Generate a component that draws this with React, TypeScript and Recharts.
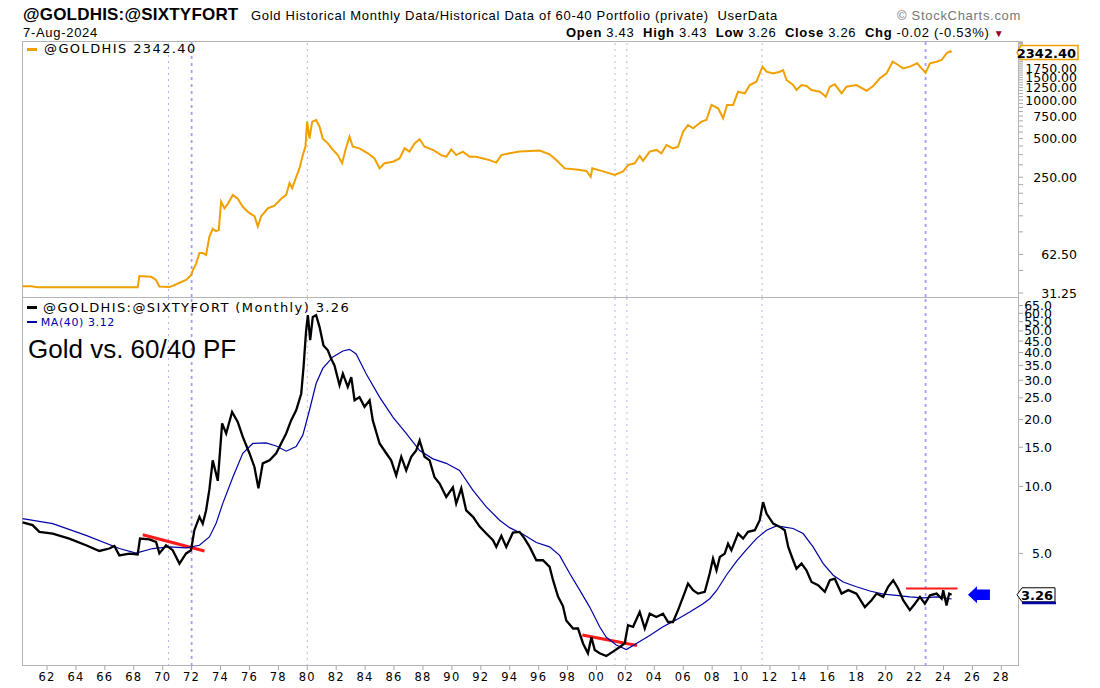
import React from 'react'
import { LineChart, Line, XAxis, YAxis, ReferenceLine, ReferenceDot } from 'recharts'

// gold monthly price (log scale)
const goldDates = [
  1960.3, 1960.9, 1961.35, 1968.27, 1968.39, 1969.2, 1969.54, 1969.77, 1970.46, 1970.69,
  1971.16, 1971.62, 1971.96, 1972.08, 1972.31, 1972.54, 1972.77, 1973.0, 1973.23, 1973.46,
  1973.69, 1973.88, 1974.04, 1974.27, 1974.5, 1974.85, 1975.19, 1975.54, 1976.0, 1976.35,
  1976.58, 1976.81, 1977.27, 1977.73, 1978.19, 1978.54, 1978.77, 1978.95, 1979.23, 1979.46,
  1979.69, 1979.87, 1979.99, 1980.15, 1980.34, 1980.61, 1980.85, 1981.07, 1981.42, 1981.77,
  1982.11, 1982.41, 1982.64, 1982.92, 1983.15, 1983.61, 1984.19, 1984.65, 1985.0, 1985.34,
  1985.92, 1986.38, 1986.73, 1987.07, 1987.42, 1987.77, 1988.11, 1988.69, 1989.26, 1989.61,
  1989.96, 1990.3, 1990.76, 1991.23, 1991.69, 1992.15, 1992.61, 1993.07, 1993.42, 1993.99,
  1994.68, 1996.07, 1996.76, 1997.22, 1997.8, 1998.61, 1999.3, 1999.6, 1999.71, 2000.34,
  2000.91, 2001.26, 2001.84, 2002.18, 2002.64, 2002.99, 2003.22, 2003.68, 2004.14, 2004.49,
  2004.84, 2005.29, 2005.64, 2005.99, 2006.33, 2006.68, 2007.26, 2007.6, 2007.95, 2008.41,
  2008.76, 2009.03, 2009.45, 2009.79, 2010.26, 2010.6, 2011.06, 2011.48, 2011.76, 2012.22,
  2012.68, 2012.91, 2013.14, 2013.6, 2013.83, 2014.18, 2014.52, 2014.87, 2015.45, 2015.86,
  2016.14, 2016.48, 2016.95, 2017.29, 2017.98, 2018.68, 2019.13, 2019.6, 2020.06, 2020.48,
  2020.87, 2021.21, 2021.67, 2022.18, 2022.48, 2022.76, 2023.06, 2023.52, 2023.87, 2024.21,
  2024.45, 2024.56,
]
const goldValues = [
  35.3, 35.3, 34.6, 34.6, 42.4, 41.8, 39.5, 35.1, 34.8, 35.5,
  37.6, 39.5, 43, 47, 53, 64, 64, 62, 86, 99,
  95, 97, 161, 143, 155, 182, 170, 147, 131, 124,
  103, 124, 143, 150, 170, 182, 225, 205, 250, 293,
  372, 432, 678, 500, 678, 698, 619, 500, 459, 408,
  372, 321, 408, 518, 432, 420, 384, 350, 293, 321,
  330, 350, 420, 396, 459, 494, 432, 408, 372, 361,
  412, 372, 396, 361, 361, 350, 340, 325, 372, 384,
  396, 403, 377, 340, 293, 287, 280, 252, 293, 280,
  268, 260, 277, 311, 321, 366, 336, 396, 408, 384,
  446, 420, 432, 566, 638, 601, 678, 698, 914, 861,
  720, 915, 915, 1161, 1127, 1309, 1390, 1820, 1663, 1614,
  1663, 1713, 1432, 1308, 1197, 1308, 1286, 1197, 1161, 1061,
  1270, 1325, 1127, 1270, 1308, 1182, 1285, 1476, 1614, 1990,
  1875, 1765, 1820, 1932, 1765, 1630, 1932, 1990, 2051, 2312,
  2400, 2342.4,
]

// gold / 60-40 portfolio ratio (bottom panel, log scale)
const ratioDates = [
  1960.31, 1961.0, 1961.47, 1962.39, 1963.54, 1964.7, 1965.62, 1966.31, 1966.66, 1967.0,
  1967.7, 1968.27, 1968.43, 1969.08, 1969.54, 1969.77, 1970.23, 1970.69, 1971.16, 1971.62,
  1971.96, 1972.19, 1972.54, 1972.77, 1973.0, 1973.23, 1973.46, 1973.81, 1974.11, 1974.39,
  1974.8, 1975.19, 1975.54, 1976.0, 1976.35, 1976.62, 1976.92, 1977.39, 1977.85, 1978.19,
  1978.54, 1978.88, 1979.23, 1979.58, 1979.74, 1979.92, 1980.04, 1980.2, 1980.38, 1980.61,
  1980.85, 1981.12, 1981.42, 1981.65, 1981.88, 1982.23, 1982.46, 1982.8, 1983.04, 1983.27,
  1983.61, 1983.96, 1984.31, 1984.53, 1985.0, 1985.46, 1985.8, 1986.15, 1986.5, 1986.84,
  1987.19, 1987.53, 1987.77, 1988.11, 1988.46, 1988.8, 1989.15, 1989.61, 1990.07, 1990.3,
  1990.65, 1990.99, 1991.46, 1991.92, 1992.38, 1992.84, 1993.07, 1993.42, 1993.76, 1994.22,
  1994.68, 1995.03, 1995.38, 1995.84, 1996.3, 1996.76, 1996.99, 1997.34, 1997.68, 1997.91,
  1998.38, 1998.72, 1999.07, 1999.41, 1999.65, 1999.88, 2000.22, 2000.68, 2001.14, 2001.61,
  2001.95, 2002.18, 2002.53, 2002.99, 2003.34, 2003.68, 2004.14, 2004.6, 2004.95, 2005.29,
  2005.64, 2005.99, 2006.33, 2006.68, 2007.02, 2007.49, 2007.83, 2008.06, 2008.3, 2008.53,
  2008.87, 2009.1, 2009.33, 2009.79, 2010.14, 2010.48, 2010.95, 2011.29, 2011.52, 2011.76,
  2012.22, 2012.68, 2013.02, 2013.26, 2013.6, 2013.83, 2014.18, 2014.52, 2014.87, 2015.33,
  2015.79, 2016.14, 2016.48, 2016.95, 2017.41, 2017.98, 2018.56, 2019.02, 2019.37, 2019.83,
  2020.17, 2020.52, 2020.87, 2021.21, 2021.67, 2022.02, 2022.37, 2022.71, 2023.06, 2023.52,
  2023.87, 2023.98, 2024.21, 2024.39, 2024.56,
]
const ratioValues = [
  6.9, 6.7, 6.25, 6.14, 5.83, 5.44, 5.13, 5.26, 5.4, 4.9,
  4.99, 4.95, 5.83, 5.78, 5.63, 5.0, 5.44, 5.17, 4.5, 5.0,
  5.17, 6.36, 7.3, 6.8, 7.8, 9.7, 13.1, 10.6, 19.2, 17.3,
  21.6, 19.5, 16.7, 14.1, 12.2, 9.8, 12.7, 13.1, 14.1, 15.6,
  17.3, 19.8, 22.0, 26.1, 34.4, 50.3, 58.8, 45.4, 57.8, 58.8,
  52, 43, 40.9, 37.5, 35.0, 28.5, 32.1, 28, 31, 24.4,
  25.2, 22.8, 24.4, 19.8, 15.6, 14.1, 13.1, 11.2, 13.6, 11.8,
  13.6, 14.5, 16.1, 13.6, 13.1, 11.0, 10.3, 8.97, 9.9, 8.37,
  9.8, 7.8, 7.3, 6.6, 6.14, 5.73, 5.35, 6.0, 5.35, 6.2,
  6.25, 5.83, 5.35, 4.66, 4.66, 4.35, 3.8, 3.2, 2.9, 2.5,
  2.3, 2.3, 1.97, 1.78, 2.1, 1.84, 1.78, 1.73, 1.81, 1.9,
  1.97, 2.38, 2.34, 2.73, 2.3, 2.68, 2.59, 2.68, 2.46, 2.46,
  2.78, 3.19, 3.66, 3.42, 3.3, 3.36, 4.06, 4.74, 4.2, 4.82,
  4.99, 5.53, 5.17, 6.14, 5.83, 6.25, 6.36, 7.05, 8.5, 7.55,
  6.81, 6.58, 6.36, 5.35, 4.66, 4.27, 4.5, 4.2, 3.72, 3.6,
  3.36, 3.79, 3.85, 3.3, 3.42, 3.3, 2.87, 3.08, 3.3, 3.19,
  3.54, 3.79, 3.47, 3.08, 2.78, 2.97, 3.19, 2.97, 3.24, 3.3,
  3.13, 3.42, 2.92, 3.3, 3.26,
]

// MA(40) of the ratio
const maDates = [
  1960.31, 1962.39, 1964.7, 1967.0, 1968.16, 1969.31, 1970.46, 1971.62, 1972.54, 1973.23,
  1973.69, 1974.15, 1974.85, 1975.54, 1976.23, 1977.15, 1977.85, 1978.54, 1979.23, 1979.69,
  1980.15, 1980.61, 1981.07, 1981.77, 1982.46, 1982.92, 1983.38, 1984.07, 1985.0, 1985.92,
  1986.84, 1987.77, 1988.69, 1989.61, 1990.53, 1991.46, 1992.38, 1993.3, 1993.99, 1994.92,
  1995.84, 1996.76, 1997.45, 1998.15, 1998.84, 1999.53, 2000.22, 2000.68, 2001.37, 2002.07,
  2002.76, 2003.68, 2004.6, 2005.53, 2006.45, 2007.37, 2007.83, 2008.3, 2008.99, 2009.68,
  2010.37, 2011.06, 2011.76, 2012.45, 2012.91, 2013.6, 2014.29, 2014.98, 2015.68, 2016.37,
  2017.06, 2017.98, 2018.91, 2019.83, 2020.75, 2021.67, 2022.6, 2023.52, 2024.56,
]
const maValues = [
  7.17, 6.81, 6.03, 5.26, 5.02, 5.26, 5.35, 5.3, 5.44, 5.93,
  6.81, 8.37, 11.0, 14.1, 15.6, 15.7, 15.2, 14.4, 15.1, 17.0,
  22.0, 29.0, 33.9, 38.2, 40.6, 41.3, 39.4, 32.1, 25.2, 20.5,
  17.3, 14.5, 13.3, 12.7, 11.8, 9.6, 8.1, 7.05, 6.53, 6.1,
  5.6, 5.35, 4.9, 4.06, 3.42, 2.87, 2.34, 2.1, 1.94, 1.85,
  1.97, 2.14, 2.34, 2.52, 2.73, 2.97, 3.13, 3.4, 4.0, 4.6,
  5.2, 5.83, 6.36, 6.65, 6.58, 6.47, 6.14, 5.35, 4.5, 3.99,
  3.72, 3.54, 3.39, 3.28, 3.24, 3.19, 3.16, 3.19, 3.12,
]

const yearTicks = [
  1962, 1964, 1966, 1968, 1970, 1972, 1974, 1976, 1978, 1980, 1982, 1984, 1986, 1988,
  1990, 1992, 1994, 1996, 1998, 2000, 2002, 2004, 2006, 2008, 2010, 2012, 2014, 2016,
  2018, 2020, 2022, 2024, 2026, 2028,
]
const goldMajorTicks = [31.25, 62.5, 250, 500, 750, 1000, 1250, 1500, 1750]
const goldMinorTicks = [
  46.875, 93.75, 125, 156.25, 187.5, 218.75, 312.5, 375, 437.5, 562.5, 625, 687.5,
  812.5, 875, 937.5, 1062.5, 1125, 1187.5, 1312.5, 1375, 1437.5, 1562.5, 1625, 1687.5,
  1812.5, 1875, 1937.5, 2000, 2062.5, 2125, 2187.5, 2250, 2312.5, 2375, 2437.5, 2500,
  2562.5, 2625, 2687.5, 2750, 2812.5, 2875,
]
const ratioTicks = [5, 10, 15, 20, 25, 30, 35, 40, 45, 50, 55, 60, 65]

// event markers (dotted verticals); the first list is drawn heavier
const strongMarkers = [1972.0, 2022.76]
const lightMarkers = [1970.4, 1980.0, 2001.28, 2002.1, 2011.45]

// red trend lines on the ratio panel
const trendFromX = [1968.62, 1999.02, 2021.4]
const trendFromY = [6.07, 2.15, 3.48]
const trendToX = [1972.89, 2002.8, 2024.97]
const trendToY = [5.13, 1.93, 3.48]
const trendWidth = [3, 3, 2]

const arrowDate = 2025.69

const X_DOMAIN: [number, number] = [1960.27, 2029.22]
const GOLD_DOMAIN: [number, number] = [29.1, 2885]
const RATIO_DOMAIN: [number, number] = [1.56, 71]

const GOLD = '#f0a000'
const NAVY = '#0000a8'
const FRAME = '#b4b4b4'

const goldData = goldDates.map((t, i) => ({ t, gold: goldValues[i] }))

const merged = new Map<number, { t: number; ratio?: number; ma?: number }>()
ratioDates.forEach((t, i) => merged.set(t, { ...(merged.get(t) ?? { t }), ratio: ratioValues[i] }))
maDates.forEach((t, i) => merged.set(t, { ...(merged.get(t) ?? { t }), ma: maValues[i] }))
const ratioData = [...merged.values()].sort((a, b) => a.t - b.t)

const lastGold = goldValues[goldValues.length - 1]
const lastRatio = ratioValues[ratioValues.length - 1]
const lastMa = maValues[maValues.length - 1]

const axisFont = '"DejaVu Sans", Verdana, sans-serif'

function GoldTick(props: any) {
  const { y, payload } = props
  if (!goldMajorTicks.includes(payload.value)) return <g />
  return (
    <text x={1077} y={y} textAnchor="end" dominantBaseline="central"
      fontSize={12.5} fontFamily={axisFont} fill="#000">
      {payload.value.toFixed(2)}
    </text>
  )
}

function RatioTick(props: any) {
  const { y, payload } = props
  return (
    <text x={1052} y={y} textAnchor="end" dominantBaseline="central"
      fontSize={12.5} fontFamily={axisFont} fill="#000">
      {payload.value.toFixed(1)}
    </text>
  )
}

function YearTick(props: any) {
  const { x, y, payload } = props
  return (
    <text x={x} y={y} dy="0.71em" textAnchor="middle" fontSize={11.5}
      fontFamily={axisFont} letterSpacing={1.2} fill="#000">
      {String(payload.value % 100).padStart(2, '0')}
    </text>
  )
}

function GoldTag(props: any) {
  const { cx, cy } = props
  return (
    <g>
      <polygon
        points={`${cx - 2},${cy} ${cx + 2},${cy - 7} ${cx + 59},${cy - 7} ${cx + 59},${cy + 7} ${cx + 2},${cy + 7}`}
        fill="#fff" stroke={GOLD} strokeWidth={1.5}
      />
      <text x={cx + 57} y={cy + 0.5} textAnchor="end" dominantBaseline="central"
        fontSize={13} fontWeight="bold" fontFamily={axisFont} fill="#000">
        {lastGold.toFixed(2)}
      </text>
    </g>
  )
}

function RatioTag(props: any) {
  const { cx, cy } = props
  return (
    <g>
      <polygon
        points={`${cx - 2},${cy} ${cx + 3},${cy - 7} ${cx + 36},${cy - 7} ${cx + 36},${cy + 7} ${cx + 3},${cy + 7}`}
        fill="#fff" stroke="#000" strokeWidth={1}
      />
      <line x1={cx + 3} x2={cx + 37} y1={cy + 8.2} y2={cy + 8.2} stroke={NAVY} strokeWidth={2.5} />
      <text x={cx + 34} y={cy + 0.5} textAnchor="end" dominantBaseline="central"
        fontSize={13} fontWeight="bold" fontFamily={axisFont} fill="#000">
        {lastRatio.toFixed(2)}
      </text>
    </g>
  )
}

function ArrowMark(props: any) {
  const { cx, cy } = props
  return (
    <polygon
      points={`${cx},${cy} ${cx + 9},${cy - 8.5} ${cx + 9},${cy - 5.3} ${cx + 22},${cy - 5.3} ${cx + 22},${cy + 5.3} ${cx + 9},${cy + 5.3} ${cx + 9},${cy + 8.5}`}
      fill="#0000ff"
    />
  )
}

function markers() {
  return [
    ...lightMarkers.map((x) => (
      <ReferenceLine key={`l${x}`} x={x} stroke="#b4b4f4" strokeWidth={1} strokeDasharray="2 4" />
    )),
    ...strongMarkers.map((x) => (
      <ReferenceLine key={`s${x}`} x={x} stroke="#a0a0f8" strokeWidth={1.8} strokeDasharray="3 4" />
    )),
  ]
}

const hdr: React.CSSProperties = {
  position: 'absolute',
  whiteSpace: 'pre',
  fontFamily: '"Liberation Sans", Arial, sans-serif',
  fontSize: 13,
  letterSpacing: 0.7,
  lineHeight: '16px',
  color: '#000',
}
const legendFont: React.CSSProperties = {
  position: 'absolute',
  whiteSpace: 'pre',
  fontFamily: axisFont,
  fontSize: 13,
  letterSpacing: 1.4,
  lineHeight: '16px',
}

export default function App() {
  return (
    <div style={{ position: 'absolute', left: 0, top: 0, width: 1100, height: 688, background: '#fff', overflow: 'hidden' }}>
      {/* header */}
      <div style={{ ...hdr, left: 23, top: 4.5, fontSize: 17, fontWeight: 'bold', letterSpacing: 0.2, lineHeight: '20px' }}>
        @GOLDHIS:@SIXTYFORT
      </div>
      <div style={{ ...hdr, left: 251, top: 7.7 }}>
        {'Gold Historical Monthly Data/Historical Data of 60-40 Portfolio (private)  UserData'}
      </div>
      <div style={{ ...hdr, left: 897, top: 7.7, color: '#777' }}>© StockCharts.com</div>
      <div style={{ ...hdr, left: 23, top: 25.3 }}>7-Aug-2024</div>
      <div style={{ ...hdr, left: 566, top: 25.3 }}>
        <b>Open</b>{' 3.43  '}<b>High</b>{' 3.43  '}<b>Low</b>{' 3.26  '}<b>Close</b>{' 3.26  '}<b>Chg</b>{' -0.02 (-0.53%) '}
        <span style={{ color: '#a00030', fontSize: 10 }}>▼</span>
      </div>

      {/* panel frames */}
      <div style={{ position: 'absolute', left: 22, top: 41, width: 997, height: 625, border: `1px solid ${FRAME}`, boxSizing: 'border-box' }} />
      <div style={{ position: 'absolute', left: 22, top: 296.5, width: 997, height: 1, background: FRAME }} />

      {/* top panel: gold (svg is taller than the plot so the lowest tick label is not cut) */}
      <div style={{ position: 'absolute', left: 0, top: 41, width: 1100, height: 272 }}>
        <LineChart width={1100} height={272} data={goldData} margin={{ top: 0, right: 0, bottom: 16, left: 22 }}>
          <XAxis dataKey="t" type="number" domain={X_DOMAIN} allowDataOverflow hide />
          <YAxis
            orientation="right" scale="log" domain={GOLD_DOMAIN} allowDataOverflow
            ticks={[...goldMajorTicks, ...goldMinorTicks]} interval={0} width={81}
            axisLine={false} tickLine={{ stroke: '#a8a8a8' }} tickSize={4}
            tick={(p: any) => <GoldTick {...p} />}
          />
          {markers()}
          <Line dataKey="gold" type="linear" stroke={GOLD} strokeWidth={2} dot={false} isAnimationActive={false} />
          <ReferenceDot x={X_DOMAIN[1]} y={lastGold} ifOverflow="visible" shape={(p: any) => <GoldTag {...p} />} />
        </LineChart>
      </div>

      {/* bottom panel: ratio */}
      <div style={{ position: 'absolute', left: 0, top: 297, width: 1100, height: 391 }}>
        <LineChart width={1100} height={391} data={ratioData} margin={{ top: 0, right: 0, bottom: 0, left: 22 }}>
          <XAxis
            dataKey="t" type="number" domain={X_DOMAIN} allowDataOverflow ticks={yearTicks}
            interval={0} height={22} axisLine={false} tickLine={{ stroke: '#a8a8a8' }}
            tickSize={4} tickMargin={3} tick={(p: any) => <YearTick {...p} />}
          />
          <YAxis
            orientation="right" scale="log" domain={RATIO_DOMAIN} allowDataOverflow
            ticks={ratioTicks} interval={0} width={81}
            axisLine={false} tickLine={{ stroke: '#a8a8a8' }} tickSize={4}
            tick={(p: any) => <RatioTick {...p} />}
          />
          {markers()}
          {trendFromX.map((x, i) => (
            <ReferenceLine
              key={`t${i}`}
              segment={[{ x, y: trendFromY[i] }, { x: trendToX[i], y: trendToY[i] }]}
              stroke="#ff1a1a" strokeWidth={trendWidth[i]}
            />
          ))}
          <Line dataKey="ma" type="linear" stroke={NAVY} strokeWidth={1.2} dot={false} connectNulls isAnimationActive={false} />
          <Line dataKey="ratio" type="linear" stroke="#000" strokeWidth={2.3} dot={false} connectNulls isAnimationActive={false} />
          <ReferenceDot x={arrowDate} y={lastRatio} ifOverflow="visible" shape={(p: any) => <ArrowMark {...p} />} />
          <ReferenceDot x={X_DOMAIN[1]} y={lastRatio} ifOverflow="visible" shape={(p: any) => <RatioTag {...p} />} />
        </LineChart>
      </div>

      {/* legends */}
      <div style={{ position: 'absolute', left: 27, top: 47.5, width: 10, height: 3, background: GOLD }} />
      <div style={{ ...legendFont, left: 44, top: 41.2 }}>{`@GOLDHIS ${lastGold.toFixed(2)}`}</div>

      <div style={{ position: 'absolute', left: 27, top: 305.5, width: 10, height: 3.5, background: '#000' }} />
      <div style={{ ...legendFont, left: 43, top: 300 }}>{`@GOLDHIS:@SIXTYFORT (Monthly) ${lastRatio.toFixed(2)}`}</div>
      <div style={{ position: 'absolute', left: 27, top: 321, width: 10, height: 2, background: NAVY }} />
      <div style={{ ...legendFont, left: 40.7, top: 315.9, fontSize: 11, letterSpacing: 0.6, lineHeight: '14px', color: NAVY }}>
        {`MA(40) ${lastMa.toFixed(2)}`}
      </div>
      <div style={{ position: 'absolute', left: 28, top: 334.4, fontFamily: '"Liberation Sans", Arial, sans-serif', fontSize: 26, lineHeight: '30px', whiteSpace: 'pre', color: '#000' }}>
        Gold vs. 60/40 PF
      </div>
    </div>
  )
}
